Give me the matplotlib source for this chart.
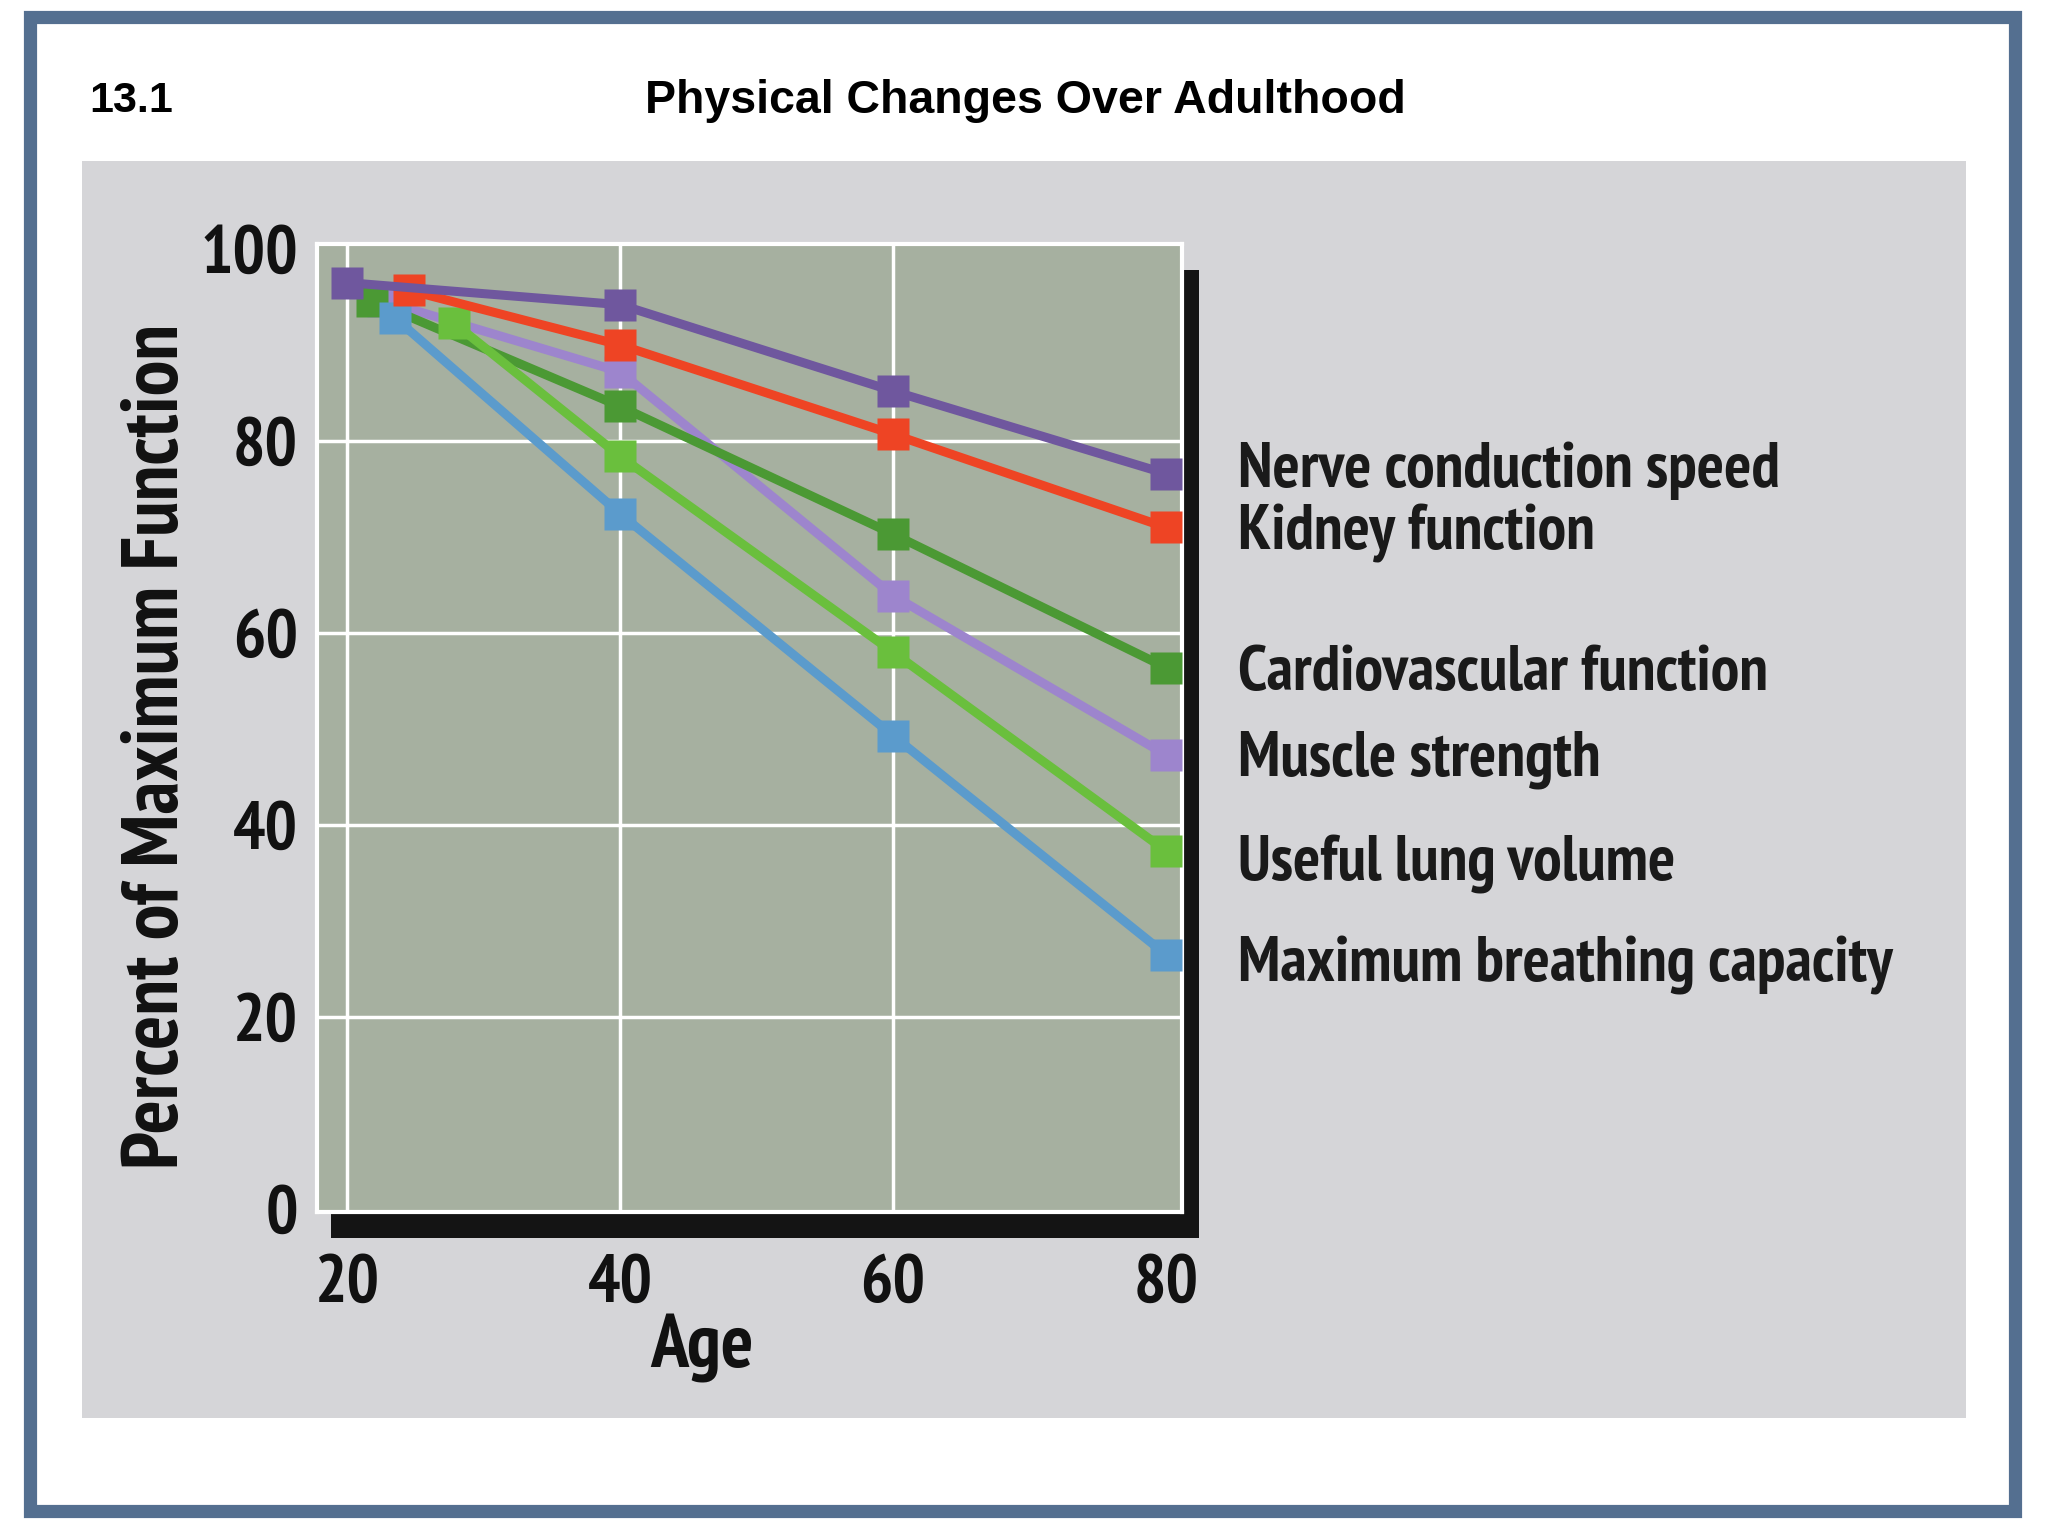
import matplotlib
matplotlib.use('Agg')
import matplotlib.pyplot as plt
from matplotlib.patches import Rectangle

plt.rcParams['font.family'] = ['PT Sans Narrow', 'DejaVu Sans']
plt.rcParams['font.weight'] = 'bold'

# data
series_names = ['Nerve conduction speed', 'Kidney function', 'Cardiovascular function',
                'Muscle strength', 'Useful lung volume', 'Maximum breathing capacity']
nerve_age = [20, 40, 60, 80];    nerve_pct = [96.5, 94.2, 85.2, 76.6]
kidney_age = [24.5, 40, 60, 80]; kidney_pct = [95.7, 90.0, 80.7, 71.0]
cardio_age = [21.8, 40, 60, 80]; cardio_pct = [94.6, 83.6, 70.3, 56.4]
muscle_age = [22.6, 40, 60, 80]; muscle_pct = [94.6, 87.2, 63.9, 47.3]
lung_age = [27.8, 40, 60, 80];   lung_pct = [92.3, 78.4, 58.0, 37.3]
breath_age = [23.5, 40, 60, 80]; breath_pct = [92.8, 72.4, 49.3, 26.5]
x_ticks = [20, 40, 60, 80]
y_ticks = [0, 20, 40, 60, 80, 100]

colors = ['#6f579e', '#ee4424', '#4b9934', '#9d85cd', '#6abf3d', '#5b9bcc']
# label baselines, figure fraction
label_y = [0.683, 0.642, 0.551, 0.495, 0.427, 0.361]

fig = plt.figure(figsize=(20.48, 15.36), dpi=100, facecolor='white')

# outer frame
fig.patches.append(Rectangle((0.0147, 0.0162), 0.9693, 0.9728, transform=fig.transFigure,
                             facecolor='white', edgecolor='#546f90', linewidth=9.5, zorder=0))
# grey panel
fig.patches.append(Rectangle((0.0402, 0.0765), 0.9196, 0.8189, transform=fig.transFigure,
                             facecolor='#d5d5d8', edgecolor='none', zorder=1))
# black shadow behind plot
fig.patches.append(Rectangle((0.1614, 0.194), 0.4241, 0.630, transform=fig.transFigure,
                             facecolor='#141414', edgecolor='none', zorder=2))

fig.text(0.0434, 0.9345, '13.1', fontsize=31, fontweight='bold', ha='left', va='center',
         family=['Liberation Sans', 'DejaVu Sans'])
fig.text(0.5006, 0.9345, 'Physical Changes Over Adulthood', fontsize=33.5, fontweight='bold',
         ha='center', va='center', family=['Liberation Sans', 'DejaVu Sans'])

ax = fig.add_axes([0.155, 0.211, 0.422, 0.630], zorder=3)
ax.set_facecolor('#a6b0a0')
for s in ax.spines.values():
  s.set_color('white'); s.set_linewidth(3)

order = [3, 2, 5, 4, 1, 0]
ages = [nerve_age, kidney_age, cardio_age, muscle_age, lung_age, breath_age]
pcts = [nerve_pct, kidney_pct, cardio_pct, muscle_pct, lung_pct, breath_pct]
for i in order:
  ax.plot(ages[i], pcts[i], '-s', color=colors[i], lw=6.5, ms=23, mec='none',
          clip_on=False, zorder=3)

for xv in x_ticks[:-1]:
  ax.axvline(xv, color='white', lw=2.5, zorder=1)
for yv in y_ticks[1:-1]:
  ax.axhline(yv, color='white', lw=2.5, zorder=1)

ax.set_xlim(17.8, 81.15)
ax.set_ylim(-0.3, 100.5)
ax.set_xticks(x_ticks)
ax.set_yticks(y_ticks)
ax.tick_params(length=0, labelsize=49, pad=14, labelcolor='#111111')
ax.tick_params(axis='x', pad=30)
for t in ax.get_xticklabels() + ax.get_yticklabels():
  t.set_fontweight('bold')

fig.text(0.343, 0.122, 'Age', fontsize=55, fontweight='bold', ha='center', va='center',
         color='#111111')
fig.text(0.077, 0.514, 'Percent of Maximum Function', fontsize=57.5, fontweight='bold',
         rotation=90, ha='center', va='center', color='#111111')

for name, yy in zip(series_names, label_y):
  fig.text(0.6046, yy, name, fontsize=46, fontweight='bold', ha='left', va='baseline',
           color='#1a1a1a')

fig.savefig('out.png', dpi=100, facecolor='white')
